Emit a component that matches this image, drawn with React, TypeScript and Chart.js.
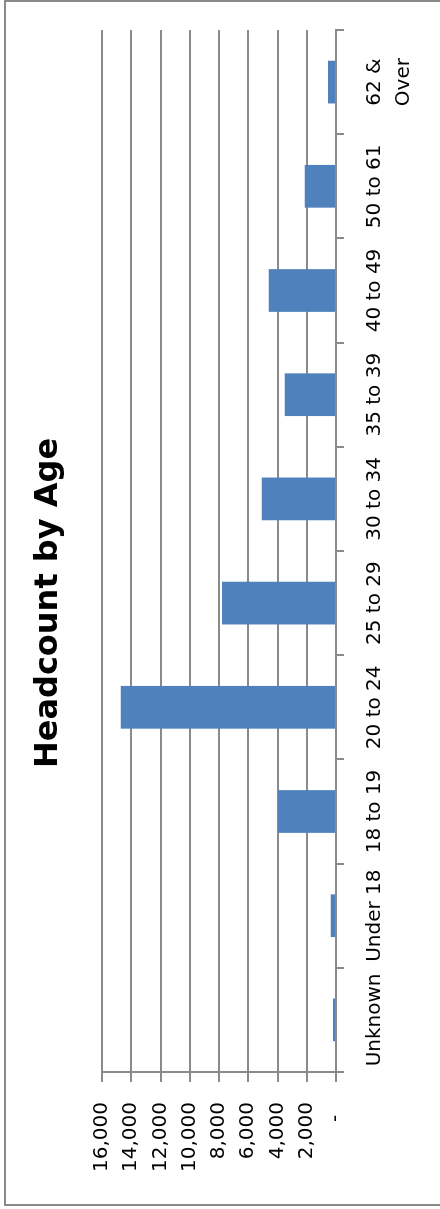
import { useEffect, useRef } from "react";
import { Chart, registerables } from "chart.js";

Chart.register(...registerables);

// Age bands (category axis) and headcount per band
const ageGroups: (string | string[])[] = [
  "Unknown",
  "Under 18",
  "18 to 19",
  "20 to 24",
  "25 to 29",
  "30 to 34",
  "35 to 39",
  "40 to 49",
  "50 to 61",
  ["62 &", "Over"],
];
const headcount = [200, 360, 3970, 14720, 7800, 5080, 3510, 4600, 2140, 550];

// Value axis ticks and their accounting-style labels
const valueTicks = [0, 2000, 4000, 6000, 8000, 10000, 12000, 14000, 16000];
const valueLabels = ["-  ", "2,000", "4,000", "6,000", "8,000", "10,000", "12,000", "14,000", "16,000"];

const FONT = "'DejaVu Sans', sans-serif";
const GRID = "#8a8a8a";
const BAR = "#4f81bd";

// The chart is laid out in landscape and turned a quarter turn counter-clockwise.
const W = 1209;
const H = 440;

export default function App() {
  const canvasRef = useRef<HTMLCanvasElement>(null);

  useEffect(() => {
    if (!canvasRef.current) return;
    const chart = new Chart(canvasRef.current, {
      type: "bar",
      data: {
        labels: ageGroups,
        datasets: [
          {
            data: headcount,
            backgroundColor: BAR,
            borderWidth: 0,
            barPercentage: 0.41,
            categoryPercentage: 1,
          },
        ],
      },
      options: {
        responsive: false,
        animation: false,
        devicePixelRatio: 1,
        layout: { padding: { left: 33, right: 30, top: 0, bottom: 0 } },
        plugins: {
          legend: { display: false },
          tooltip: { enabled: false },
          title: {
            display: true,
            text: "Headcount by Age",
            color: "#000",
            font: { family: FONT, size: 32, weight: "bold", lineHeight: 1.2 },
            padding: { top: 29.8, bottom: 33.8 },
          },
        },
        scales: {
          x: {
            type: "category",
            offset: true,
            grid: {
              offset: true,
              drawOnChartArea: false,
              drawTicks: true,
              tickLength: 8,
              color: GRID,
              lineWidth: 2,
            },
            border: { display: true, color: GRID, width: 2 },
            ticks: {
              color: "#000",
              font: { family: FONT, size: 20, lineHeight: 1.45 },
              padding: 16.5,
              maxRotation: 0,
              minRotation: 0,
              autoSkip: false,
            },
            afterFit: (scale: any) => {
              scale.height = 104;
            },
          },
          y: {
            min: 0,
            max: 16000,
            ticks: {
              stepSize: 2000,
              color: "#000",
              font: { family: FONT, size: 20 },
              padding: 20,
              callback: (v: any) => {
                const i = valueTicks.indexOf(Number(v));
                return i >= 0 ? valueLabels[i] : "";
              },
            },
            grid: { color: GRID, lineWidth: 2, tickLength: 10 },
            border: { display: true, color: GRID, width: 2 },
            afterFit: (scale: any) => {
              scale.width = 104;
            },
          },
        },
      },
    });
    return () => chart.destroy();
  }, []);

  return (
    <div
      style={{
        position: "absolute",
        left: 0,
        top: 0,
        width: W,
        height: H,
        transformOrigin: "0 0",
        transform: `translate(0px, ${W}px) rotate(-90deg)`,
        background: "#fff",
      }}
    >
      <div
        style={{
          position: "absolute",
          left: 3,
          top: 4,
          width: W - 3,
          height: H + 10,
          boxSizing: "border-box",
          border: `2px solid ${GRID}`,
          borderBottom: "none",
        }}
      />
      <canvas
        ref={canvasRef}
        width={W}
        height={H}
        style={{ position: "absolute", left: 0, top: 0, width: W, height: H }}
      />
    </div>
  );
}
